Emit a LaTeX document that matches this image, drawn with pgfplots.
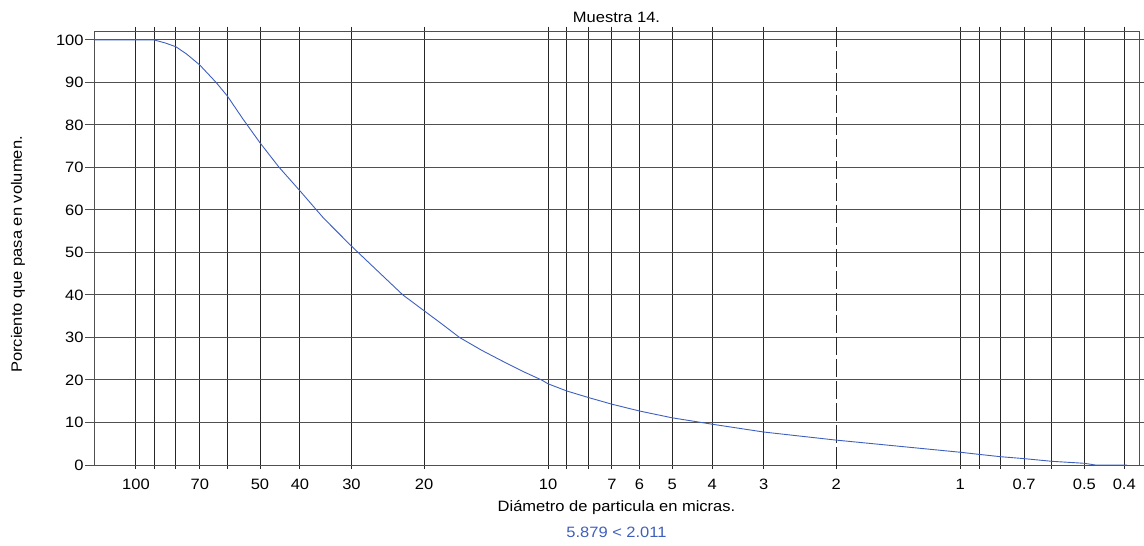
\documentclass[border=0pt]{standalone}
\usepackage{fontspec}
\setmainfont{Liberation Sans}[FakeStretch=1.1]
\usepackage{pgfplots}
\pgfplotsset{compat=1.18}
\definecolor{curveblue}{HTML}{3F5FBF}
\definecolor{gridgray}{HTML}{505050}
\begin{document}
\fontsize{15bp}{18bp}\selectfont
\begin{tikzpicture}
\begin{axis}[
  at={(0,0)}, anchor=south west,
  scale only axis, width=1045bp, height=434bp,
  xmode=log, x dir=reverse,
  xmin=0.3685, xmax=126.4,
  ymin=0, ymax=102.1,
  xtick={100,90,80,70,60,50,40,30,20,10,9,8,7,6,5,4,3,1,0.9,0.8,0.7,0.6,0.5,0.4},
  xticklabels={100,,,70,,50,40,30,20,10,,,7,6,5,4,3,1,,,0.7,,0.5,0.4},
  extra x ticks={2}, extra x tick labels={2},
  extra x tick style={major grid style={black, dash pattern=on 18bp off 4bp, line width=1.3bp}},
  ytick={0,10,...,100},
  xmajorgrids, ymajorgrids,
  x grid style={black!85, line width=0.9bp},
  y grid style={gridgray, line width=1bp},
  axis line style={gridgray, line width=0.9bp},
  tick align=outside,
  xtick style={black!85, line width=0.9bp, /pgfplots/major tick length=4bp},
  ytick style={gridgray, line width=1bp, /pgfplots/major tick length=9bp},
  /pgf/number format/assume math mode=true,
  xticklabel style={anchor=north, yshift=-5bp},
  yticklabel style={anchor=east, xshift=-1bp},
  title={Muestra 14.},
  title style={at={(0.5,1)}, anchor=base, yshift=3bp},
  xlabel={Diámetro de particula en micras.},
  xlabel style={at={(0.5,0)}, anchor=base, yshift=-46bp},
  ylabel={Porciento que pasa en volumen.},
  ylabel style={at={(axis description cs:-0.0727,0.485)}, anchor=center, rotate=0},
]
% cumulative passing curve
\addplot[curveblue, line width=0.9bp] coordinates {
  (126.4,100) (90.4,100) (85,99.3) (80,98.4) (75.4,96.7) (70,94.1)
  (63.9,90.0) (60,86.8) (55,81.4) (50,75.8) (45,70.1) (40,64.5)
  (35,58.0) (30,51.5) (28.9,50) (25,44.2) (22.5,40)
  (20,36.3) (18,33.0) (16.4,30) (14.5,27.0) (13,24.6) (11.5,22.0)
  (10.37,20) (10,19.1) (9,17.4) (8,15.9) (7,14.3) (6,12.7) (5,11.1)
  (4,9.6) (3,7.76) (2.011,5.879) (1,3.0) (0.9,2.5) (0.8,1.96) (0.7,1.5)
  (0.6,0.87) (0.5,0.4) (0.47,0) (0.394,0)
};
\end{axis}
\node[curveblue, anchor=base] at ([yshift=-72bp]current axis.south) {5.879 < 2.011};
\pgfresetboundingbox
\path[use as bounding box] (-94bp,-81bp) rectangle (1050bp,465bp);
\end{tikzpicture}
\end{document}
